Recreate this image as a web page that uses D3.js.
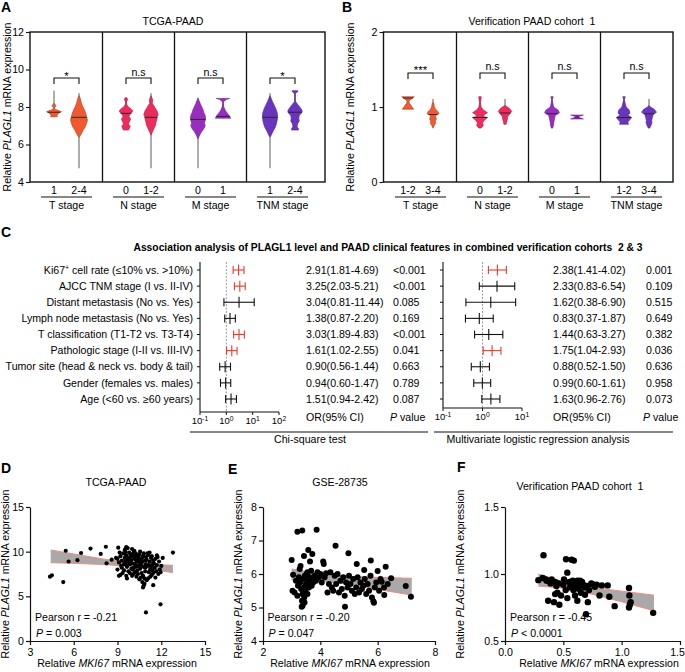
<!DOCTYPE html>
<html><head><meta charset="utf-8">
<script src="https://cdn.jsdelivr.net/npm/d3@7"></script>
<style>body{margin:0;background:#fff;} svg text{font-family:'Liberation Sans',Arial,Helvetica,sans-serif;}</style>
</head><body><script>
// ---------------- DATA ----------------
const violinGroups = ["T stage","N stage","M stage","TNM stage"];
const groupColors = ["#EF5A30","#EE2B5D","#9A2DC1","#6B34BF"];
const catsA = [["1","2-4"],["0","1-2"],["0","1"],["1","2-4"]];
const catsB = [["1-2","3-4"],["0","1-2"],["0","1"],["1-2","3-4"]];
const sigA = ["*","n.s","n.s","*"];
const sigB = ["***","n.s","n.s","n.s"];
const yTicksA = [4,6,8,10,12];
const yTicksB = [0,1,2];
// violin profiles: [value, relative density]
const violinA_min = [7.48,4.73,6.77,4.73,4.73,7.40,4.73,6.77];
const violinA_max = [8.87,8.73,8.50,8.73,8.50,8.48,8.73,8.87];
const violinA_median = [7.72,7.45,7.66,7.45,7.34,7.50,7.45,7.72];
const violinA_profiles = [
  [[8.2,0],[8.15,0.12],[8.05,0.24],[7.97,0.08],[7.9,0.05],[7.85,0.3],[7.75,0.88],[7.66,0.5],[7.55,0.35],[7.48,0.4]],
  [[8.6,0],[8.5,0.12],[8.37,0.2],[8.19,0.3],[8.02,0.45],[7.84,0.65],[7.66,0.8],[7.48,0.9],[7.31,1.0],[7.13,0.9],[6.95,0.75],[6.77,0.5],[6.59,0.3],[6.45,0.12],[6.38,0]],
  [[8.49,0.1],[8.42,0.2],[8.35,0.15],[8.28,0.05],[8.15,0.08],[8.02,0.25],[7.9,0.6],[7.8,0.8],[7.7,0.7],[7.6,0.45],[7.5,0.35],[7.35,0.55],[7.22,0.4],[7.1,0.3],[6.98,0.5],[6.86,0.4],[6.77,0.3]],
  [[8.6,0],[8.5,0.1],[8.37,0.2],[8.2,0.15],[8.1,0.3],[7.95,0.5],[7.8,0.7],[7.6,0.85],[7.5,0.75],[7.35,0.7],[7.2,0.6],[7.05,0.55],[6.9,0.4],[6.7,0.2],[6.55,0.05],[6.5,0]],
  [[8.45,0],[8.35,0.12],[8.2,0.25],[8.0,0.45],[7.85,0.6],[7.7,0.7],[7.55,0.85],[7.35,0.9],[7.15,0.75],[7.0,0.85],[6.85,0.7],[6.7,0.45],[6.55,0.25],[6.4,0.1],[6.3,0]],
  [[8.46,0.8],[8.4,0.4],[8.3,0.1],[8.2,0.02],[8.0,0.1],[7.8,0.3],[7.62,0.6],[7.5,0.8],[7.4,0.9]],
  [[8.6,0],[8.46,0.15],[8.28,0.3],[8.1,0.5],[7.9,0.7],[7.7,0.85],[7.5,0.9],[7.3,0.85],[7.1,0.75],[6.9,0.6],[6.7,0.35],[6.5,0.15],[6.4,0]],
  [[8.87,0.35],[8.8,0.3],[8.73,0.05],[8.55,0.03],[8.3,0.05],[8.15,0.3],[7.95,0.65],[7.8,0.85],[7.7,0.8],[7.55,0.5],[7.4,0.45],[7.25,0.5],[7.1,0.3],[6.95,0.25],[6.85,0.4],[6.77,0.4]]
];
const violinB_min = [0.97,0.716,0.716,0.77,0.716,0.84,0.77,0.716];
const violinB_max = [1.137,1.107,1.137,1.107,1.137,0.893,1.137,1.107];
const violinB_median = [1.12,0.90,0.86,0.92,0.91,0.865,0.86,0.91];
const violinB_profiles = [
  [[1.137,0.85],[1.12,0.65],[1.08,0.1],[1.05,0.2],[1.0,0.55],[0.97,0.75]],
  [[1.06,0],[1.05,0.12],[1.0,0.18],[0.97,0.35],[0.94,0.65],[0.91,0.8],[0.89,0.4],[0.87,0.35],[0.84,0.45],[0.81,0.3],[0.78,0.35],[0.75,0.15],[0.73,0.05]],
  [[1.137,0.18],[1.1,0.12],[1.06,0.06],[1.0,0.15],[0.96,0.45],[0.925,1.0],[0.9,0.6],[0.875,0.45],[0.86,1.0],[0.82,0.55],[0.79,0.35],[0.75,0.45],[0.72,0.15]],
  [[1.02,0],[1.0,0.35],[0.97,0.7],[0.94,0.9],[0.91,0.65],[0.87,0.35],[0.83,0.3],[0.8,0.2],[0.77,0.15]],
  [[1.137,0.18],[1.12,0.1],[1.1,0.02],[1.0,0.22],[0.96,0.8],[0.925,1.0],[0.89,0.45],[0.85,0.35],[0.8,0.25],[0.76,0.2],[0.72,0.1]],
  [[0.893,0.85],[0.87,0.12],[0.84,0.85]],
  [[1.137,0.18],[1.12,0.1],[1.1,0.02],[1.0,0.3],[0.96,0.7],[0.92,0.8],[0.89,0.55],[0.86,1.0],[0.82,0.7],[0.8,0.5],[0.77,0.6]],
  [[1.02,0],[1.0,0.2],[0.97,0.7],[0.93,1.0],[0.9,0.55],[0.86,0.45],[0.82,0.35],[0.79,0.4],[0.75,0.25],[0.72,0.1]]
];
// forest plot
const features = ["Ki67^+ cell rate (\u226410% vs. >10%)","AJCC TNM stage (I vs. II-IV)","Distant metastasis (No vs. Yes)","Lymph node metastasis (No vs. Yes)","T classification (T1-T2 vs. T3-T4)","Pathologic stage (I-II vs. III-IV)","Tumor site (head & neck vs. body & tail)","Gender (females vs. males)","Age (<60 vs. \u226560 years)"];
const chiOR = [2.91,3.25,3.04,1.38,3.03,1.61,0.90,0.94,1.51];
const chiLo = [1.81,2.03,0.81,0.87,1.89,1.02,0.56,0.60,0.94];
const chiHi = [4.69,5.21,11.44,2.20,4.83,2.55,1.44,1.47,2.42];
const chiP = ["<0.001","<0.001","0.085","0.169","<0.001","0.041","0.663","0.789","0.087"];
const mvOR = [2.38,2.33,1.62,0.83,1.44,1.75,0.88,0.99,1.63];
const mvLo = [1.41,0.83,0.38,0.37,0.63,1.04,0.52,0.60,0.96];
const mvHi = [4.02,6.54,6.90,1.87,3.27,2.93,1.50,1.61,2.76];
const mvP = ["0.001","0.109","0.515","0.649","0.382","0.036","0.636","0.958","0.073"];
const chiTicks = [0.1,1,10,100];
const mvTicks = [0.1,1,10];
// scatter D
const scatterD = [[4.37,7.2],[4.5,7.35],[5.28,6.6],[5.45,10.1],[5.65,8.9],[6.25,9.05],[6.5,9.85],[7.15,10.35],[7.85,9.75],[8.2,10.55],[8.25,8.7],[9.05,10.45],[9.6,10.5],[9.1,7.3],[12.8,9.9],[11.95,4.1],[10.95,3.2],[11.45,6.25],[10.75,6.0],[8.6,9.1],[8.9,9.3],
[9.0,9.2],[9.1,8.8],[9.2,9.5],[9.25,8.4],[9.3,9.0],[9.35,7.6],[9.4,9.8],[9.45,8.6],[9.5,9.3],[9.0,8.0],[9.15,9.9],[9.3,8.2],[9.2,7.4],[9.45,7.9],[9.5,10.2],
[9.55,8.9],[9.6,9.6],[9.65,8.3],[9.7,9.1],[9.75,7.8],[9.8,9.9],[9.85,8.6],[9.9,9.4],[9.95,8.1],[9.6,7.3],[9.7,10.4],[9.8,8.8],[9.9,9.7],[9.55,9.95],[9.65,7.0],[9.75,9.3],[9.85,7.6],[9.95,9.0],[10.0,10.3],[9.6,8.5],
[10.0,8.7],[10.05,9.5],[10.1,8.2],[10.15,9.2],[10.2,7.7],[10.25,9.8],[10.3,8.9],[10.35,9.4],[10.4,8.4],[10.45,9.0],[10.0,7.3],[10.1,9.9],[10.2,8.6],[10.3,7.2],[10.4,9.6],[10.05,8.0],[10.15,10.1],[10.25,8.3],[10.35,7.9],[10.45,9.3],[10.5,8.8],[10.1,7.5],[10.3,9.1],[10.2,9.55],[10.4,7.5],
[10.5,9.7],[10.55,8.1],[10.6,9.2],[10.65,7.6],[10.7,8.9],[10.75,9.5],[10.8,8.3],[10.85,7.0],[10.9,9.0],[10.95,8.6],[10.5,6.9],[10.6,8.5],[10.7,6.6],[10.8,9.8],[10.9,7.8],[10.55,10.0],[10.65,8.8],[10.75,7.3],[10.85,6.4],[10.95,9.4],[10.6,7.1],[10.8,6.2],[10.7,9.3],[10.9,8.2],[11.0,6.8],
[11.0,9.1],[11.05,8.4],[11.1,9.6],[11.15,7.7],[11.2,8.9],[11.25,8.0],[11.3,9.3],[11.35,7.4],[11.4,8.6],[11.45,9.0],[11.1,7.0],[11.2,9.9],[11.3,8.3],[11.4,7.9],[11.5,8.7],[11.05,9.8],[11.25,7.2],[11.35,9.5],[11.15,8.5],[11.45,7.6],
[11.55,8.2],[11.6,9.2],[11.65,7.8],[11.7,8.5],[11.75,9.4],[11.8,7.5],[11.85,8.9],[11.9,8.0],[11.6,7.1],[11.7,9.6],[12.0,8.4],[12.1,9.3],[11.95,7.7]];
const bandD_x = [4.42,6,8,9.9,11.5,12.8];
const bandD_hi = [10.19,9.74,9.18,8.75,8.56,8.47];
const bandD_lo = [8.77,8.69,8.56,8.35,8.0,7.65];
// scatter E
const scatterE = [[3.0,6.42],[3.2,7.26],[3.37,7.3],[3.87,7.32],[3.58,6.72],[3.72,6.6],[3.43,6.54],[3.64,6.37],[3.31,6.24],[3.05,5.98],[3.03,5.5],[3.1,5.45],[3.2,5.35],[3.22,5.65],[3.25,5.9],[3.28,6.15],[3.3,5.75],[3.33,5.55],[3.35,5.02],[3.36,5.2],[3.38,5.4],[3.4,5.85],[3.42,5.6],[3.44,5.3],[3.46,5.95],[3.48,5.5],[3.5,5.7],[3.52,6.0],[3.55,5.4],[3.57,5.8],[3.6,5.6],[3.62,5.9],[3.65,5.7],[3.68,6.1],[3.7,5.85],[3.75,5.75],[3.8,5.95],[3.85,5.8],[3.9,6.05],[3.15,5.8],[3.45,5.15],[3.38,5.05],[3.55,6.05],[3.7,5.65],[3.95,5.9],
[4.1,6.37],[4.12,6.3],[4.53,6.84],[4.98,6.62],[4.0,6.0],[4.05,5.75],[4.15,5.9],[4.2,6.02],[4.25,5.45],[4.3,5.7],[4.35,6.05],[4.4,5.6],[4.45,5.5],[4.5,5.95],[4.55,5.7],[4.6,6.0],[4.65,5.45],[4.7,5.8],[4.75,5.55],[4.8,5.9],[4.85,5.35],[4.9,5.75],[4.95,5.6],[4.86,5.02],[5.0,5.95],[5.05,5.7],[5.1,5.5],[5.15,5.85],[5.2,5.4],[5.25,5.6],[5.27,6.3],[5.3,5.9],[5.35,5.45],[5.4,5.75],[5.45,5.55],
[5.53,6.12],[5.76,6.4],[5.5,5.65],[5.55,5.85],[5.6,5.4],[5.65,5.7],[5.7,5.5],[5.75,5.95],[5.8,5.3],[5.85,5.19],[5.87,5.14],[5.9,5.6],[5.95,5.75],[6.0,6.09],[6.05,5.5],[6.1,5.85],[6.14,5.77],[6.22,5.6],[6.23,5.37],[6.28,6.22],[6.35,5.7],[6.47,5.87],[6.98,5.64],[7.16,5.32]];
const bandE_x = [3.0,4.0,5.0,6.0,7.19];
const bandE_hi = [6.15,6.0,5.93,5.9,5.87];
const bandE_lo = [5.82,5.8,5.69,5.54,5.37];
// scatter F
const scatterF = [[0.286,0.954],[0.33,1.14],[0.323,0.97],[0.357,0.95],[0.37,0.80],[0.42,0.79],[0.43,0.85],[0.449,0.86],[0.43,0.94],[0.466,0.77],[0.39,0.93],[0.40,0.96],[0.523,1.11],[0.571,1.107],[0.59,1.10],[0.534,1.01],[0.506,0.96],[0.534,0.82],[0.557,0.90],[0.586,0.88],[0.62,0.80],[0.643,0.95],[0.67,0.92],[0.694,0.70],[0.70,0.91],[0.686,0.845],[0.743,0.925],[0.77,0.905],[0.786,0.92],[0.83,0.915],[0.88,0.915],[0.81,0.84],[0.894,0.83],[0.94,0.76],[1.063,0.895],[1.066,0.84],[1.077,0.79],[1.063,0.75],[1.27,0.71],[0.50,0.92],[0.52,0.88],[0.55,0.94],[0.57,0.93],[0.60,0.91],[0.62,0.95],[0.63,0.89],[0.65,0.86],[0.66,0.94],[0.68,0.90],[0.72,0.88],[0.74,0.93],[0.48,0.84],[0.46,0.93],[0.60,0.84],[0.71,0.79],[0.58,0.95],[0.76,0.92],[1.07,0.77],[0.35,0.96],[0.44,0.91],[0.64,0.92]];
const bandF_x = [0.286,0.45,0.6,0.8,1.0,1.277];
const bandF_hi = [1.0,0.955,0.923,0.894,0.872,0.842];
const bandF_lo = [0.91,0.899,0.879,0.838,0.792,0.726];

// ---------------- DRAW ----------------
const svg = d3.select("body").append("svg").attr("width",685).attr("height",672);
svg.append("rect").attr("width",685).attr("height",672).attr("fill","#fff");
const RED = "#E8392B";
const FS = 10.6;

function label(x,y,t){ svg.append("text").attr("x",x).attr("y",y).attr("font-size",14).attr("font-weight","bold").text(t); }
function ylabel(x,cy,size){
  const t = svg.append("text").attr("transform",`translate(${x},${cy}) rotate(-90)`).attr("text-anchor","middle").attr("font-size",size||10.6);
  t.append("tspan").text("Relative ");
  t.append("tspan").attr("font-style","italic").text("PLAGL1");
  t.append("tspan").text(" mRNA expression");
}
function halfW(pr,v){
  for(let i=0;i<pr.length-1;i++){const a=pr[i],b=pr[i+1]; if(v<=a[0]&&v>=b[0]){const t=(a[0]-v)/((a[0]-b[0])||1);return a[1]+(b[1]-a[1])*t;}}
  return 0;
}

function violinPanel(p){
  const y=d3.scaleLinear(p.yDomain,[p.bottom,p.top]);
  const xg=d3.scaleBand(violinGroups,p.band);
  const xi=d3.scalePoint([0,1],[-12.5,12.5]);
  const wS=d3.scaleLinear([0,1],[0,p.maxW]);
  const g=svg.append("g");
  violinGroups.forEach((grp,gi)=>{
    const cc=xg(grp)+xg.bandwidth()/2;
    [0,1].forEach(k=>{
      const idx=gi*2+k, cx=cc+xi(k), col=groupColors[gi];
      g.append("line").attr("x1",cx).attr("x2",cx).attr("y1",y(p.mins[idx])).attr("y2",y(p.maxs[idx])).attr("stroke","#6a6a6a").attr("stroke-width",1.1);
      const area=d3.area().y(d=>y(d[0])).x0(d=>cx-wS(d[1])).x1(d=>cx+wS(d[1]));
      g.append("path").attr("d",area(p.profiles[idx])).attr("fill",col).attr("stroke",d3.color(col).darker(0.9)).attr("stroke-width",0.6);
      const hw=wS(halfW(p.profiles[idx],p.medians[idx]));
      g.append("line").attr("x1",cx-hw).attr("x2",cx+hw).attr("y1",y(p.medians[idx])).attr("y2",y(p.medians[idx])).attr("stroke","#222").attr("stroke-width",0.9);
      g.append("text").attr("x",cx).attr("y",p.bottom+12).attr("text-anchor","middle").attr("font-size",FS).text(p.cats[gi][k]);
    });
    const x1=cc+xi(0), x2=cc+xi(1);
    g.append("path").attr("d",`M${x1},${p.brY+6}V${p.brY}H${x2}V${p.brY+6}`).attr("fill","none").attr("stroke","#111").attr("stroke-width",1.1);
    const star=p.sig[gi].startsWith("*");
    g.append("text").attr("x",cc).attr("y",star?p.starY:p.nsY).attr("text-anchor","middle").attr("font-size",star?11.5:FS).text(p.sig[gi]);
    g.append("line").attr("x1",cc-25.5).attr("x2",cc+25.5).attr("y1",197).attr("y2",197).attr("stroke","#111").attr("stroke-width",1.1);
    g.append("text").attr("x",cc).attr("y",209).attr("text-anchor","middle").attr("font-size",FS).text(grp);
    if(gi>0) g.append("line").attr("x1",xg(grp)).attr("x2",xg(grp)).attr("y1",p.top).attr("y2",p.bottom).attr("stroke","#111").attr("stroke-width",1.3);
  });
  g.append("rect").attr("x",p.left).attr("y",p.top).attr("width",p.right-p.left).attr("height",p.bottom-p.top).attr("fill","none").attr("stroke","#111").attr("stroke-width",1.4);
  const ax=g.append("g").attr("transform",`translate(${p.left},0)`).call(d3.axisLeft(y).tickValues(p.ticks).tickFormat(d3.format("d")).tickSize(4).tickSizeOuter(0).tickPadding(2));
  ax.select(".domain").remove();
  ax.selectAll("line").attr("stroke","#111").attr("stroke-width",1.1);
  ax.selectAll("text").attr("font-size",FS).attr("font-family",null).attr("fill","#000");
  g.append("text").attr("x",p.titleX).attr("y",24.5).attr("text-anchor","middle").attr("font-size",FS).text(p.title);
}

label(1,12,"A");
violinPanel({left:30,right:325,top:32,bottom:182,band:[30.5,318.5],yDomain:[4,12],ticks:yTicksA,maxW:8.5,
  mins:violinA_min,maxs:violinA_max,medians:violinA_median,profiles:violinA_profiles,cats:catsA,sig:sigA,
  brY:78,starY:80,nsY:76,title:"TCGA-PAAD",titleX:173});
ylabel(10.5,107);
label(342,12,"B");
violinPanel({left:383.5,right:673,top:32,bottom:182,band:[384.5,672.5],yDomain:[0,2],ticks:yTicksB,maxW:7.5,
  mins:violinB_min,maxs:violinB_max,medians:violinB_median,profiles:violinB_profiles,cats:catsB,sig:sigB,
  brY:73,starY:73.5,nsY:69.5,title:"Verification PAAD cohort  1",titleX:532});
ylabel(354,107);

// ---------------- C: forest ----------------
label(1,237,"C");
svg.append("text").attr("x",388).attr("y",251).attr("text-anchor","middle").attr("font-size",10.3).attr("font-weight","bold")
  .text("Association analysis of PLAGL1 level and PAAD clinical features in combined verification cohorts  2 & 3");
const rowY = d3.scalePoint(features,[270,399]);
features.forEach(f=>{
  const t=svg.append("text").attr("x",193).attr("y",rowY(f)+3.7).attr("text-anchor","end").attr("font-size",FS);
  const parts=f.split("^+");
  t.append("tspan").text(parts[0]);
  if(parts.length>1){ t.append("tspan").attr("dy",-4).attr("font-size",7).text("+"); t.append("tspan").attr("dy",4).text(parts[1]); }
});
function isSig(p){ return p.startsWith("<") || parseFloat(p)<0.05; }
function forest(o){
  const x=d3.scaleLog([o.ticks[0],o.ticks[o.ticks.length-1]],[o.x0,o.x1]);
  const g=svg.append("g");
  g.append("line").attr("x1",x(1)).attr("x2",x(1)).attr("y1",o.top).attr("y2",o.axisY).attr("stroke","#9a9a9a").attr("stroke-width",1).attr("stroke-dasharray","2,1.5");
  g.append("line").attr("x1",o.x0).attr("x2",o.x0).attr("y1",o.top).attr("y2",o.axisY).attr("stroke","#111").attr("stroke-width",1.1);
  g.append("line").attr("x1",o.x0).attr("x2",o.x1).attr("y1",o.axisY).attr("y2",o.axisY).attr("stroke","#111").attr("stroke-width",1.1);
  o.ticks.forEach(tv=>{
    g.append("line").attr("x1",x(tv)).attr("x2",x(tv)).attr("y1",o.axisY).attr("y2",o.axisY+3).attr("stroke","#111");
    const t=g.append("text").attr("x",x(tv)).attr("y",o.axisY+12).attr("text-anchor","middle").attr("font-size",9.5);
    t.append("tspan").text("10");
    t.append("tspan").attr("dy",-3.5).attr("font-size",6.8).text(String(Math.round(Math.log10(tv))));
  });
  features.forEach((f,i)=>{
    const yy=rowY(f), col=isSig(o.p[i])?RED:"#111";
    g.append("line").attr("x1",o.x0-3).attr("x2",o.x0).attr("y1",yy).attr("y2",yy).attr("stroke","#111");
    g.append("line").attr("x1",x(o.lo[i])).attr("x2",x(o.hi[i])).attr("y1",yy).attr("y2",yy).attr("stroke",col).attr("stroke-width",1.1);
    [o.lo[i],o.hi[i]].forEach(v=>g.append("line").attr("x1",x(v)).attr("x2",x(v)).attr("y1",yy-4).attr("y2",yy+4).attr("stroke",col).attr("stroke-width",1.1));
    g.append("line").attr("x1",x(o.or[i])).attr("x2",x(o.or[i])).attr("y1",yy-5.5).attr("y2",yy+5.5).attr("stroke",col).attr("stroke-width",1.1);
    g.append("text").attr("x",o.orX).attr("y",yy+3.7).attr("font-size",FS).text(`${o.or[i].toFixed(2)}(${o.lo[i].toFixed(2)}-${o.hi[i].toFixed(2)})`);
    g.append("text").attr("x",o.pX).attr("y",yy+3.7).attr("font-size",FS).text(o.p[i]);
  });
  g.append("text").attr("x",o.orX).attr("y",420.5).attr("font-size",FS).text("OR(95% CI)");
  const pt=g.append("text").attr("x",o.pX-3).attr("y",420.5).attr("font-size",FS);
  pt.append("tspan").attr("font-style","italic").text("P");
  pt.append("tspan").text(" value");
  g.append("line").attr("x1",o.ul[0]).attr("x2",o.ul[1]).attr("y1",432).attr("y2",432).attr("stroke","#111").attr("stroke-width",1.1);
  g.append("text").attr("x",o.capX).attr("y",442.5).attr("text-anchor","middle").attr("font-size",FS).text(o.caption);
}
forest({ticks:chiTicks,x0:200,x1:279,top:262,axisY:412,or:chiOR,lo:chiLo,hi:chiHi,p:chiP,orX:306,pX:393,ul:[190,428],capX:310,caption:"Chi-square test"});
forest({ticks:mvTicks,x0:443,x1:522,top:262,axisY:408,or:mvOR,lo:mvLo,hi:mvHi,p:mvP,orX:553,pX:646,ul:[434,673],capX:538,caption:"Multivariate logistic regression analysis"});

// ---------------- D, E, F: scatter ----------------
function scatter(o){
  const x=d3.scaleLinear(o.xd,o.xr), y=d3.scaleLinear(o.yd,[641,507]);
  const g=svg.append("g");
  const band=o.bx.map((v,i)=>[v,o.bhi[i],o.blo[i]]);
  g.append("path").attr("d",d3.area().x(d=>x(d[0])).y0(d=>y(d[2])).y1(d=>y(d[1]))(band)).attr("fill","#A9A9A9");
  [1,2].forEach(k=>g.append("path").attr("d",d3.line().x(d=>x(d[0])).y(d=>y(d[k]))(band)).attr("fill","none").attr("stroke","#F28A80").attr("stroke-width",1));
  g.selectAll(null).data(o.pts).enter().append("circle").attr("cx",d=>x(d[0])).attr("cy",d=>y(d[1])).attr("r",o.r).attr("fill","#000");
  const ax=g.append("g").attr("transform","translate(0,641)").call(d3.axisBottom(x).tickValues(o.xt).tickFormat(o.fmt).tickSize(4).tickSizeOuter(0));
  const ay=g.append("g").attr("transform",`translate(${o.xr[0]},0)`).call(d3.axisLeft(y).tickValues(o.yt).tickFormat(o.fmt).tickSize(4).tickSizeOuter(0).tickPadding(2));
  [ax,ay].forEach(a=>{a.selectAll("path,line").attr("stroke","#111").attr("stroke-width",1.2);a.selectAll("text").attr("font-size",FS).attr("font-family",null).attr("fill","#000");});
  ax.selectAll("text").filter(d=>x(d)>670).attr("dx",-3);
  g.append("text").attr("x",o.titleX).attr("y",o.titleY).attr("text-anchor","middle").attr("font-size",FS).text(o.title);
  g.append("text").attr("x",o.tx).attr("y",621).attr("font-size",FS).text(o.r1);
  const pt=g.append("text").attr("x",o.tx+1).attr("y",636.5).attr("font-size",FS);
  pt.append("tspan").attr("font-style","italic").text("P");
  pt.append("tspan").text(o.p);
  const xl=g.append("text").attr("x",o.xlX).attr("y",667).attr("text-anchor","middle").attr("font-size",FS);
  xl.append("tspan").text("Relative ");
  xl.append("tspan").attr("font-style","italic").text("MKI67");
  xl.append("tspan").text(" mRNA expression");
  ylabel(o.ylx,574);
}
label(1,473,"D");
scatter({xd:[3,15],xr:[30,205],yd:[0,15],xt:[3,6,9,12,15],yt:[0,5,10,15],fmt:d3.format("d"),pts:scatterD,r:2.1,
  bx:bandD_x,bhi:bandD_hi,blo:bandD_lo,title:"TCGA-PAAD",titleX:116,titleY:485.5,tx:35,r1:"Pearson r = -0.21",p:" = 0.003",xlX:117,ylx:9});
label(228,474,"E");
scatter({xd:[2,8],xr:[263,435],yd:[4,8],xt:[2,4,6,8],yt:[4,5,6,7,8],fmt:d3.format("d"),pts:scatterE,r:3,
  bx:bandE_x,bhi:bandE_hi,blo:bandE_lo,title:"GSE-28735",titleX:340,titleY:485.5,tx:267.5,r1:"Pearson r = -0.20",p:" = 0.047",xlX:350,ylx:242});
label(457,472,"F");
scatter({xd:[0,1.5],xr:[505,680],yd:[0.5,1.5],xt:[0,0.5,1,1.5],yt:[0.5,1,1.5],fmt:d3.format(".1f"),pts:scatterF,r:3.2,
  bx:bandF_x,bhi:bandF_hi,blo:bandF_lo,title:"Verification PAAD cohort  1",titleX:580,titleY:490,tx:510,r1:"Pearson r = -0.45",p:" < 0.0001",xlX:599,ylx:464});
svg.selectAll("text").style("white-space","pre");
</script></body></html>
